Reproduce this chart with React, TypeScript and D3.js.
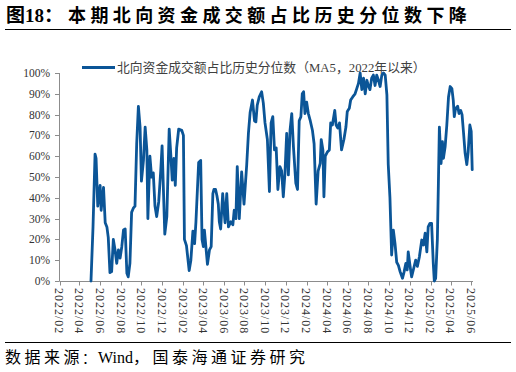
import React from "react";
import * as d3 from "d3";

const dates = [
  "2022-05-05","2022-05-11","2022-05-17","2022-05-20","2022-05-25","2022-06-01","2022-06-04","2022-06-11","2022-06-16","2022-06-21",
  "2022-06-25","2022-06-30","2022-07-05","2022-07-10","2022-07-15","2022-07-20","2022-07-25","2022-07-30","2022-08-04","2022-08-09",
  "2022-08-14","2022-08-19","2022-08-23","2022-08-28","2022-09-02","2022-09-07","2022-09-12","2022-09-17","2022-09-22","2022-09-27",
  "2022-10-01","2022-10-07","2022-10-12","2022-10-17","2022-10-20","2022-10-26","2022-10-31","2022-11-05","2022-11-10","2022-11-15",
  "2022-11-21","2022-11-27","2022-12-01","2022-12-09","2022-12-15","2022-12-22","2022-12-27","2022-12-31","2023-01-05","2023-01-09",
  "2023-01-13","2023-01-19","2023-01-28","2023-02-02","2023-02-05","2023-02-11","2023-02-19","2023-02-24","2023-03-02","2023-03-07",
  "2023-03-11","2023-03-19","2023-03-25","2023-03-29","2023-04-02","2023-04-05","2023-04-14","2023-04-20","2023-04-25","2023-04-30",
  "2023-05-03","2023-05-08","2023-05-12","2023-05-16","2023-05-19","2023-05-23","2023-05-29","2023-06-05","2023-06-10","2023-06-15",
  "2023-06-22","2023-06-28","2023-07-02","2023-07-07","2023-07-11","2023-07-17","2023-07-24","2023-07-31","2023-08-08","2023-08-13",
  "2023-08-18","2023-08-25","2023-08-31","2023-09-04","2023-09-08","2023-09-14","2023-09-21","2023-09-26","2023-10-01","2023-10-08",
  "2023-10-14","2023-10-19","2023-10-24","2023-10-29","2023-11-03","2023-11-08","2023-11-14","2023-11-19","2023-11-24","2023-11-29",
  "2023-12-04","2023-12-09","2023-12-14","2023-12-19","2023-12-24","2023-12-31","2024-01-05","2024-01-10","2024-01-15","2024-01-19",
  "2024-01-23","2024-01-27","2024-02-01","2024-02-06","2024-02-11","2024-02-18","2024-02-23","2024-02-29","2024-03-06","2024-03-12",
  "2024-03-15","2024-03-20","2024-03-23","2024-03-27","2024-04-02","2024-04-08","2024-04-12","2024-04-17","2024-04-24","2024-04-28",
  "2024-05-03","2024-05-08","2024-05-14","2024-05-21","2024-05-27","2024-05-31","2024-06-06","2024-06-10","2024-06-16","2024-06-23",
  "2024-06-28","2024-07-03","2024-07-08","2024-07-13","2024-07-18","2024-07-23","2024-07-28","2024-08-01","2024-08-06","2024-08-11",
  "2024-08-16","2024-08-21","2024-08-26","2024-08-31","2024-09-05","2024-09-10","2024-09-15","2024-09-20","2024-09-25","2024-09-29",
  "2024-10-04","2024-10-09","2024-10-14","2024-10-19","2024-10-24","2024-10-29","2024-11-03","2024-11-10","2024-11-15","2024-11-20",
  "2024-11-24","2024-11-27","2024-12-02","2024-12-07","2024-12-12","2024-12-19","2024-12-24","2024-12-30","2025-01-06","2025-01-11",
  "2025-01-16","2025-01-21","2025-01-25","2025-01-30","2025-02-04","2025-02-09","2025-02-12","2025-02-16","2025-02-21","2025-02-24",
  "2025-02-27","2025-03-04","2025-03-08","2025-03-11","2025-03-16","2025-03-21","2025-03-26","2025-03-31","2025-04-05","2025-04-09",
  "2025-04-12","2025-04-16","2025-04-22","2025-04-26","2025-05-01","2025-05-05","2025-05-09","2025-05-14","2025-05-19","2025-05-23",
  "2025-05-28","2025-06-01","2025-06-04",
];

const values = [
  0, 26, 61, 59, 36, 46, 34, 45, 28, 26,
  21, 4, 4.5, 20, 15, 8.5, 15, 11, 16.5, 24.5,
  25, 3.7, 2, 8.5, 33, 35, 36, 66, 84, 74,
  48, 58, 74, 63, 30, 60, 50, 52, 36, 31,
  38, 53, 65, 22.5, 31, 73, 60, 48.5, 59, 46,
  64, 73, 72.5, 70, 20, 17, 5, 10, 24, 18,
  28.5, 57, 58, 20, 16.5, 24.5, 8, 15, 16.5, 42,
  44, 44, 41, 37, 28.5, 25, 42, 28, 42, 26,
  28.5, 27, 34, 30, 55, 30, 52.5, 37, 56, 71,
  81, 87, 77, 76.5, 84.5, 88.5, 91, 85.5, 76, 68,
  43, 76, 79, 63, 64, 44, 55, 53, 40.5, 52,
  71, 51, 72.5, 80.5, 64.5, 47, 44, 77, 79, 90,
  91, 80.5, 86, 80.5, 77.5, 72.5, 66, 37, 53, 56.5,
  68, 63, 40.5, 60, 62, 63, 76, 75, 82, 75,
  73.5, 76, 63, 68, 74, 81.5, 83, 87, 88.5, 90,
  92.5, 95, 100, 92, 97.5, 90, 96.5, 94, 92, 97.5,
  99, 94, 99, 96.5, 93.5, 99, 100, 99, 89.5, 56,
  40, 12.5, 24.5, 18, 9, 7.5, 4.5, 1.3, 4.5, 8.5,
  5.3, 14, 7.7, 2, 5.3, 10, 7, 11.7, 19.7, 17.3,
  23, 14, 26, 27.7, 27.7, 8.5, 0, 1.3, 19.7, 46,
  74, 56.5, 67, 59, 64.5, 75, 88.5, 93.5, 92.5, 87,
  79, 83, 84, 80.5, 82, 80, 72, 61.5, 56, 62,
  75, 72, 53.5,
];

const yTicks = [0, 10, 20, 30, 40, 50, 60, 70, 80, 90, 100];
const xStart = "2022-02-01";
const xEnd = "2025-06-01";
const seriesName = "北向资金成交额占比历史分位数（MA5，2022年以来）";
const titleLabel = "图18：";
const titleText = "本期北向资金成交额占比历史分位数下降";
const sourceLabel = "数据来源";
const sourceColon = "：";
const sourceWind = "Wind";
const sourceRest = "，国泰海通证券研究";

export default function App() {
  const W = 516;
  const H = 372;
  const parse = d3.timeParse("%Y-%m-%d");
  const d0 = parse(xStart)!;
  const d1 = parse(xEnd)!;
  const x = d3.scaleTime().domain([d0, d1]).range([59.5, 471.2]);
  const y = d3.scaleLinear().domain([0, 100]).range([281, 73]);
  const data = dates.map((d, i) => ({ date: parse(d)!, v: values[i] }));
  const line = d3
    .line<{ date: Date; v: number }>()
    .x((d) => x(d.date))
    .y((d) => y(d.v));
  const xTicks = d3.timeMonth.range(d0, d3.timeDay.offset(d1, 1), 2);
  const fmt = d3.timeFormat("%Y/%m");
  const serif = "'Liberation Serif', 'Noto Sans CJK SC', serif";
  const cjk = "'Noto Sans CJK SC', sans-serif";
  const blue = "#0b5597";
  const axisColor = "#8c8c8c";

  return (
    <svg
      width={W}
      height={H}
      style={{ position: "absolute", left: 0, top: 0, display: "block", background: "#fff" }}
    >
      {/* Title */}
      <text x={6} y={22} fontFamily={serif} fontWeight="bold" fontSize={19} fill="#000">
        {titleLabel}
      </text>
      <text x={68} y={22} fontFamily={cjk} fontWeight="bold" fontSize={18} letterSpacing={4.4} fill="#000">
        {titleText}
      </text>
      <line x1={5} x2={511} y1={29.5} y2={29.5} stroke="#000" strokeWidth={1} />

      {/* Legend */}
      <line x1={82} x2={115} y1={67.5} y2={67.5} stroke={blue} strokeWidth={3} />
      <text x={117} y={72} fontFamily={serif} fontSize={12.8} fill="#404040">
        {seriesName}
      </text>

      {/* Y axis */}
      <line x1={59.5} x2={59.5} y1={73} y2={281} stroke={axisColor} strokeWidth={1} />
      {yTicks.map((t) => (
        <g key={t}>
          <line x1={55} x2={59.5} y1={Math.round(y(t)) + 0.5} y2={Math.round(y(t)) + 0.5} stroke={axisColor} />
          <text x={50} y={y(t)} dy="0.35em" textAnchor="end" fontFamily={serif} fontSize={11.5} fill="#333">
            {t + "%"}
          </text>
        </g>
      ))}

      {/* X axis */}
      <line x1={59.5} x2={473} y1={281.5} y2={281.5} stroke={axisColor} strokeWidth={1} />
      {xTicks.map((t) => (
        <g key={t.getTime()}>
          <line x1={Math.round(x(t)) + 0.5} x2={Math.round(x(t)) + 0.5} y1={281.5} y2={285.5} stroke={axisColor} />
          <text
            transform={`translate(${x(t)},288) rotate(90)`}
            dy="0.35em"
            textAnchor="start"
            fontFamily={serif}
            fontSize={12}
            letterSpacing={1}
            fill="#333"
          >
            {fmt(t)}
          </text>
        </g>
      ))}

      {/* Series */}
      <path d={line(data) || ""} fill="none" stroke={blue} strokeWidth={2.8} strokeLinejoin="round" strokeLinecap="round" />

      {/* Footer */}
      <line x1={5} x2={511} y1={342.5} y2={342.5} stroke="#000" strokeWidth={1} />
      <text x={5} y={363} fontFamily={cjk} fontSize={16} letterSpacing={3.5} fill="#000">
        {sourceLabel}
      </text>
      <text x={82} y={363} fontFamily={cjk} fontSize={14} fill="#000">
        {sourceColon}
      </text>
      <text x={98} y={363} fontFamily={serif} fontSize={16} fill="#000">
        {sourceWind}
      </text>
      <text x={133} y={363} fontFamily={cjk} fontSize={16} letterSpacing={3.5} fill="#000">
        {sourceRest}
      </text>
    </svg>
  );
}
